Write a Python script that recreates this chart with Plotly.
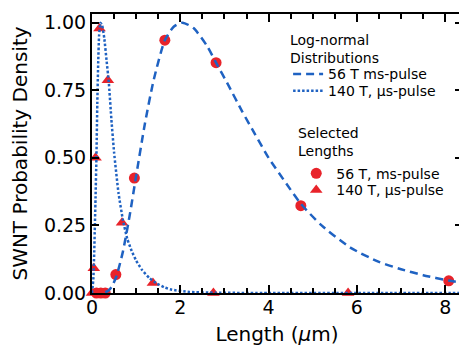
import plotly.graph_objects as go

# Log-normal curve, 56 T ms-pulse
ms_curve_x = [0.30, 0.38, 0.45, 0.55, 0.70, 0.85, 1.00, 1.20, 1.40, 1.65, 1.85, 2.05, 2.30, 2.60,
              2.80, 3.10, 3.40, 3.70, 4.00, 4.40, 4.73, 5.20, 5.85, 6.50, 7.00, 7.50, 8.08, 8.50]
ms_curve_y = [0.002, 0.010, 0.024, 0.060, 0.153, 0.284, 0.433, 0.628, 0.790, 0.935, 0.985, 1.000, 0.980, 0.915,
              0.855, 0.765, 0.672, 0.585, 0.500, 0.405, 0.330, 0.250, 0.168, 0.115, 0.088, 0.066, 0.046, 0.035]

# Log-normal curve, 140 T us-pulse
us_curve_x = [0.00, 0.03, 0.05, 0.08, 0.10, 0.12, 0.14, 0.16, 0.19, 0.23, 0.28, 0.33, 0.38, 0.44,
              0.50, 0.60, 0.70, 0.80, 0.90, 1.00, 1.13, 1.30, 1.47, 1.65, 1.81, 2.20, 2.80, 4.00, 6.00, 8.50]
us_curve_y = [0.00, 0.05, 0.15, 0.35, 0.50, 0.70, 0.85, 0.95, 1.00, 0.99, 0.94, 0.86, 0.78, 0.64,
              0.52, 0.37, 0.27, 0.20, 0.155, 0.12, 0.086, 0.055, 0.035, 0.020, 0.012, 0.004, 0.001, 0.0, 0.0, 0.0]

# Selected lengths
ms_pts_x = [0.10, 0.20, 0.30, 0.54, 0.96, 1.65, 2.81, 4.73, 8.08]
ms_pts_y = [0.0, 0.0, 0.0, 0.068, 0.425, 0.935, 0.852, 0.323, 0.045]
us_pts_x = [0.0, 0.04, 0.08, 0.17, 0.36, 0.68, 1.38, 2.75, 5.80]
us_pts_y = [0.0, 0.092, 0.50, 0.978, 0.787, 0.26, 0.037, 0.0, 0.0]

x_tickvals = [0, 2, 4, 6, 8]
y_tickvals = [0.0, 0.25, 0.5, 0.75, 1.0]
y_ticktext = ["0.00", "0.25", "0.50", "0.75", "1.00"]

BLUE = "#1f62c2"
RED = "#e8232a"
FONT = "DejaVu Sans"

fig = go.Figure()

fig.add_trace(go.Scatter(x=ms_pts_x, y=ms_pts_y, mode="markers", name="56 T, ms-pulse",
                         marker=dict(symbol="circle", size=11, color=RED), showlegend=True,
                         cliponaxis=False, legend="legend3"))
fig.add_trace(go.Scatter(x=us_pts_x, y=us_pts_y, mode="markers", name="140 T, μs-pulse",
                         marker=dict(symbol="triangle-up", size=11, color=RED), showlegend=True,
                         cliponaxis=False, legend="legend4"))
fig.add_trace(go.Scatter(x=ms_curve_x, y=ms_curve_y, mode="lines", name="56 T ms-pulse", showlegend=True,
                         line=dict(color=BLUE, width=2.5, dash="8px,5px", shape="spline", smoothing=0.6),
                         legend="legend"))
fig.add_trace(go.Scatter(x=us_curve_x, y=us_curve_y, mode="lines", name="140 T, μs-pulse", showlegend=True,
                         line=dict(color=BLUE, width=2.5, dash="2.5px,2px", shape="spline", smoothing=0.4),
                         legend="legend2"))

axis_common = dict(showline=True, linewidth=2, linecolor="black", mirror="ticks", automargin=False,
                   ticks="inside", tickcolor="black", tickwidth=2, showgrid=False, zeroline=False,
                   tickfont=dict(family=FONT, size=19, color="black"))

leg_common = dict(font=dict(family=FONT, size=14, color="black"), xanchor="left", yanchor="top",
                  bgcolor="rgba(0,0,0,0)", tracegroupgap=0, itemwidth=30)

# page body has an 8px default margin, so the figure is 8px smaller than the window
fig.update_layout(
    width=459, height=341,
    showlegend=True,
    margin=dict(l=84, r=5, t=6, b=55.7),
    paper_bgcolor="white", plot_bgcolor="white",
    font=dict(family=FONT, color="black"),
    xaxis=dict(range=[0, 8.38], tickvals=x_tickvals, ticklen=8, ticklabelstandoff=-4,
               minor=dict(dtick=0.5, ticks="inside", ticklen=5, tickcolor="black", tickwidth=1.5),
               title=dict(text="Length (<i>μ</i>m)", font=dict(family=FONT, size=20, color="black"), standoff=10),
               **axis_common),
    yaxis=dict(range=[0, 1.032], tickvals=y_tickvals, ticktext=y_ticktext, ticklen=7,
               title=dict(text="SWNT Probability Density", font=dict(family=FONT, size=20, color="black"), standoff=12),
               **axis_common),
    legend=dict(x=0.530, y=0.841, **leg_common),
    legend2=dict(x=0.530, y=0.781, **leg_common),
    legend3=dict(x=0.552, y=0.485, **leg_common),
    legend4=dict(x=0.552, y=0.425, **leg_common),
    annotations=[
        dict(text="Log-normal<br>Distributions", xref="paper", yref="paper", x=0.530, y=0.943,
             xanchor="left", yanchor="top", align="left", showarrow=False,
             font=dict(family=FONT, size=14, color="black")),
        dict(text="Selected<br>Lengths", xref="paper", yref="paper", x=0.552, y=0.61,
             xanchor="left", yanchor="top", align="left", showarrow=False,
             font=dict(family=FONT, size=14, color="black")),
    ],
)

fig.write_html("out.html")
